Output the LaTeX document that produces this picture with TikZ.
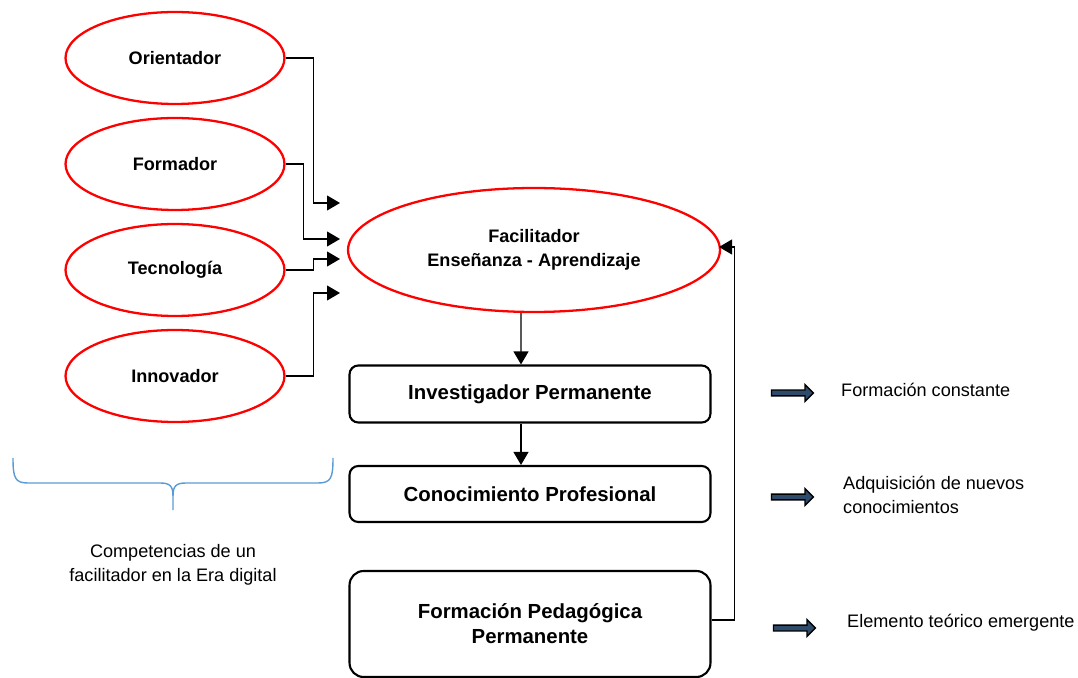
\documentclass[tikz,border=0pt]{standalone}
\usepackage{fontspec}
\setmainfont{Liberation Sans}
\usepackage{xcolor}
\usetikzlibrary{arrows.meta,shapes.geometric,shapes.arrows}
\definecolor{rojo}{RGB}{255,0,0}
\definecolor{azulflecha}{RGB}{47,75,107}
\definecolor{azulllave}{RGB}{91,155,213}

\begin{document}
\begin{tikzpicture}[x=0.02cm,y=-0.02cm,
  font=\fontsize{10.3}{13.6}\selectfont,
  comp/.style={ellipse,draw=rojo,line width=1.3pt,minimum width=4.38cm,minimum height=1.84cm,
    font=\fontsize{10.3}{13.6}\selectfont\bfseries,align=center},
  caja/.style={draw,line width=1.2pt,rounded corners=5pt,minimum width=7.22cm,
    font=\fontsize{11.6}{14.2}\selectfont\bfseries,align=center},
  flecha/.style={single arrow,draw,line width=0.8pt,fill=azulflecha,inner sep=0.045cm,
    minimum height=0.84cm,minimum width=0pt,single arrow head extend=0.11cm},
  >={Triangle[length=7.4pt,width=8.5pt]}]
\useasboundingbox (0,0) rectangle (1078,678);

% competencias
\node[comp] (Ori) at (175,58)  {Orientador};
\node[comp] (For) at (175,164) {Formador};
\node[comp] (Tec) at (175,270) {Tecnología};
\node[comp] (Inn) at (175,376) {Innovador};

\node[comp,minimum width=7.44cm,minimum height=2.48cm] (Fac) at (534,250) {Facilitador\\Enseñanza - Aprendizaje};

\node[caja,minimum height=1.14cm] (Inv) at (530,394) {Investigador Permanente};
\node[caja,minimum height=1.12cm] (Con) at (530,494) {Conocimiento Profesional};
\node[caja,minimum height=2.12cm,rounded corners=8pt] (Ped) at (530,624) {Formación Pedagógica\\Permanente};

\coordinate (tOri) at (340,203);
\coordinate (tFor) at (340,239);
\coordinate (tTec) at (340,259);
\coordinate (tInn) at (340,293);
\coordinate (tFac) at (719,247);

\draw[->,line width=0.7pt] (Ori.east) -- ++(28,0) |- (tOri);
\draw[->,line width=0.7pt] (For.east) -- ++(18,0) |- (tFor);
\draw[->,line width=0.7pt] (Tec.east) -- ++(28,0) |- (tTec);
\draw[->,line width=0.7pt] (Inn.east) -- ++(28,0) |- (tInn);

\draw[->,line width=0.7pt] ([xshift=-0.26cm]Fac.south) -- ([xshift=-0.18cm]Inv.north);
\draw[->,line width=0.7pt] ([xshift=-0.18cm]Inv.south) -- ([xshift=-0.18cm]Con.north);
\draw[->,line width=0.7pt] ([yshift=0.08cm]Ped.east) -- ++(23,0) |- (tFac);

% elementos emergentes
\node[flecha] (f1) at (791,393) {};
\node[flecha] (f2) at (791,497) {};
\node[flecha] (f3) at (793,628) {};
\node[anchor=west] (t1) at (835,390) {Formación constante};
\node[anchor=west,align=left] (t2) at (837,495) {Adquisición de nuevos\\conocimientos};
\node[anchor=west] (t3) at (841,623) {Elemento teórico emergente};

% llave
\draw[azulllave,line width=0.8pt] (13,458) .. controls (13,478) and (15,483) .. (28,483) -- (160,483)
  .. controls (170,483) and (173,486) .. (173,496) -- (173,510);
\draw[azulllave,line width=0.8pt] (333,458) .. controls (333,478) and (331,483) .. (318,483) -- (186,483)
  .. controls (176,483) and (173,486) .. (173,496);
\node[align=center] (lab) at (173,565) {Competencias de un\\facilitador en la Era digital};
\end{tikzpicture}
\end{document}
